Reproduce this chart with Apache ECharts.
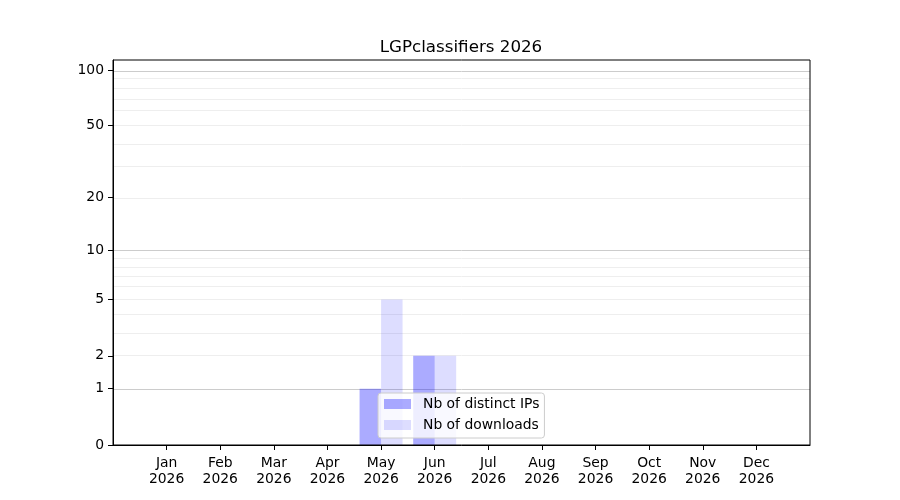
<!DOCTYPE html>
<html>
<head>
<meta charset="utf-8">
<script src="https://cdn.jsdelivr.net/npm/echarts@6/dist/echarts.min.js"></script>
<style>html,body{margin:0;padding:0;background:#fff}#chart{width:900px;height:500px}</style>
</head>
<body>
<div id="chart"></div>
<script>
var months = ['Jan','Feb','Mar','Apr','May','Jun','Jul','Aug','Sep','Oct','Nov','Dec'];
var year = '2026';
var distinctIps = [0,0,0,0,1,2,0,0,0,0,0,0];
var downloads = [0,0,0,0,5,2,0,0,0,0,0,0];
var yTicks = [0,1,2,5,10,20,50,100];
var majorGrid = [1,10,100];
var minorGrid = [2,3,4,5,6,7,8,9,20,30,40,50,60,70,80,90];
var yTop = 113.5;

// matplotlib-like symlog axis: position = log10(v+1)
function tf(v){ return Math.log10(v+1); }
function inv(p){ return Math.round(Math.pow(10,p)-1); }

var cats = [''].concat(months.map(function(m){return m+'\n'+year;})).concat(['']);
function pad(arr){ return [null].concat(arr.map(tf)).concat([null]); }
function gridLines(vals){ return vals.map(function(v){return {yAxis:tf(v)};}); }

var font = 'DejaVu Sans';
var chart = echarts.init(document.getElementById('chart'));
chart.setOption({
    animation:false,
    title:{text:'LGPclassifiers '+year,left:456,top:34,textAlign:'center',
        textStyle:{fontFamily:font,fontSize:16.7,fontWeight:'normal',color:'#000'}},
    legend:{orient:'vertical',left:378,top:393,itemWidth:27,itemHeight:10,itemGap:7,icon:'rect',
        padding:[4,5,6,6],backgroundColor:'rgba(255,255,255,0.8)',borderColor:'#cccccc',borderWidth:1,borderRadius:3,
        textStyle:{fontFamily:font,fontSize:13.9,color:'#000',padding:[0,0,0,7]},
        data:['Nb of distinct IPs','Nb of downloads']},
    grid:{left:113,right:90,top:60,bottom:55,show:true,z:5,borderColor:'#000',borderWidth:1,backgroundColor:'transparent'},
    xAxis:{type:'category',data:cats,boundaryGap:false,z:5,
        axisLine:{lineStyle:{color:'#000',width:1}},
        axisTick:{length:5,lineStyle:{color:'#000'},interval:function(i){return i>0&&i<cats.length-1;}},
        axisLabel:{interval:0,color:'#000',fontFamily:font,fontSize:13.9,lineHeight:15.5,margin:11},
        splitLine:{show:false}},
    yAxis:{type:'value',min:0,max:tf(yTop),z:5,
        axisLine:{show:true,lineStyle:{color:'#000',width:1}},
        axisTick:{show:true,length:5,lineStyle:{color:'#000'},customValues:yTicks.map(tf)},
        axisLabel:{color:'#000',fontFamily:font,fontSize:13.9,margin:9,customValues:yTicks.map(tf),
            formatter:function(p){return String(inv(p));}},
        splitLine:{show:false}},
    series:[
        {name:'minor',type:'line',data:[],z:0,silent:true,
            markLine:{silent:true,z:0,symbol:['none','none'],label:{show:false},
                lineStyle:{color:'#eeeeee',type:'solid',width:1},data:gridLines(minorGrid)}},
        {name:'major',type:'line',data:[],z:0,silent:true,
            markLine:{silent:true,z:0,symbol:['none','none'],label:{show:false},
                lineStyle:{color:'#cccccc',type:'solid',width:1},data:gridLines(majorGrid)}},
        {name:'Nb of distinct IPs',type:'bar',data:pad(distinctIps),barWidth:21.5,barGap:'0%',z:2,
            itemStyle:{color:'rgba(0,0,255,0.33)'}},
        {name:'Nb of downloads',type:'bar',data:pad(downloads),barWidth:21.5,barGap:'0%',z:2,
            itemStyle:{color:'rgba(0,0,255,0.135)'}}
    ]
});
</script>
</body>
</html>
